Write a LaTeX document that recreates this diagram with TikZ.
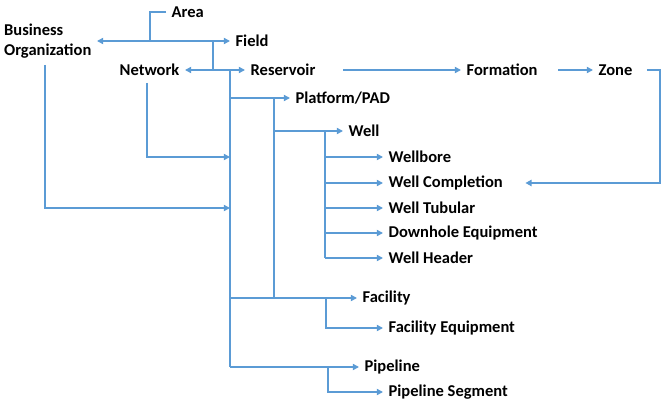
\documentclass[tikz,border=0pt]{standalone}
\usepackage{fontspec}
\setmainfont{Carlito}
\usetikzlibrary{arrows.meta, positioning, calc}
\definecolor{linkblue}{HTML}{5B9BD5}

\begin{document}
\begin{tikzpicture}[x=0.02cm, y=-0.02cm,
  every node/.style={font=\bfseries\fontsize{9.4}{11.4}\selectfont, inner sep=3pt},
  link/.style={draw=linkblue, line width=1pt},
  tip/.style={link, -{Triangle[length=3.5pt, width=3.5pt]}}]
\useasboundingbox (0,0) rectangle (665,402);
% Labels
\node (area) at (166,12) [right] {Area};
\node (biz) at (97,41) [left, align=left] {Business\\Organization};
\node (field) at (230,41) [right] {Field};
\node (net) at (185,70) [left] {Network};
\node (res) at (245,70) [right] {Reservoir};
\node (form) at (461,70) [right] {Formation};
\node (zone) at (593,70) [right] {Zone};
\node (plat) at (290,98) [right] {Platform/PAD};
\node (well) at (343,131) [right] {Well};
\node (bore) at (383,157) [right] {Wellbore};
\node (compl) at (383,183) [right] {Well Completion};
\node (tub) at (383,208) [right] {Well Tubular};
\node (dhe) at (383,233) [right] {Downhole Equipment};
\node (head) at (383,258) [right] {Well Header};
\node (fac) at (357,298) [right] {Facility};
\node (faceq) at (383,328) [right] {Facility Equipment};
\node (pipe) at (359,367) [right] {Pipeline};
\node (seg) at (383,392) [right] {Pipeline Segment};
% Junctions
\coordinate (split) at (150,41);
\coordinate (fdrop) at (213,41);
\coordinate (fsplit) at (213,70);
\coordinate (trunk) at (230,70);
\coordinate (pdrop) at (274,98);
\coordinate (wdrop) at (325,131);
\coordinate (fedrop) at (326,298);
\coordinate (ppdrop) at (328,367);
\coordinate (ndrop) at (147,83);
\coordinate (bdrop) at (45,65);
\coordinate (zcorner) at (660,183);
% Top of the tree
\draw[link] (area.west) -| (split);
\draw[tip] (split) -- (biz.east);
\draw[tip] (split) -- (field.west);
\draw[link] (fdrop) -- (fsplit);
\draw[tip] (fsplit) -- (net.east);
\draw[tip] (fsplit) -- (res.west);
\draw[tip, shorten <=0.44cm] (res.east) -- (form.west);
\draw[tip, shorten <=0.3cm] (form.east) -- (zone.west);
\draw[tip, shorten <=0.18cm, shorten >=0.34cm] (zone.east) -| (zcorner) -- (compl.east);
% Trunk
\draw[link] (trunk) -- (trunk |- pipe);
\draw[tip] (trunk |- plat) -- (plat.west);
\draw[tip] (trunk |- fac) -- (fac.west);
\draw[tip] (trunk |- pipe) -- (pipe.west);
\draw[tip] (ndrop) |- (trunk |- bore);
\draw[tip] (bdrop) |- (trunk |- tub);
% Platform branch
\draw[link] (pdrop) -- (pdrop |- fac);
\draw[tip] (pdrop |- well) -- (well.west);
\draw[link] (wdrop) -- (wdrop |- head);
\foreach \n in {bore, compl, tub, dhe, head}
  \draw[tip] (wdrop |- \n) -- (\n.west);
% Facility and pipeline
\draw[tip] (fedrop) |- (faceq.west);
\draw[tip] (ppdrop) |- (seg.west);
\end{tikzpicture}
\end{document}
